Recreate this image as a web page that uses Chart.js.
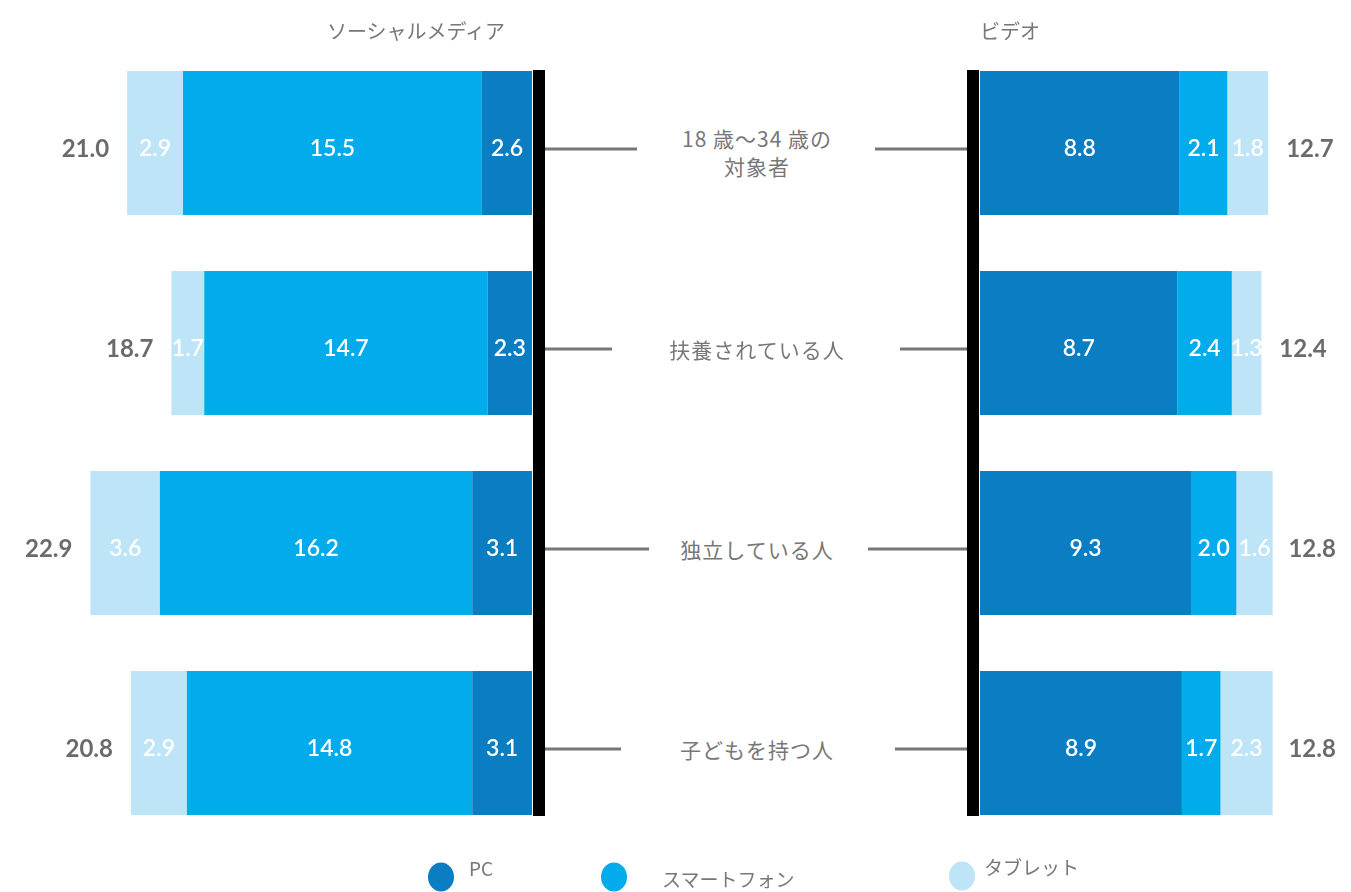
<!DOCTYPE html>
<html lang="ja">
<head>
<meta charset="UTF-8">
<title>ソーシャルメディアとビデオ</title>
<script src="https://cdn.jsdelivr.net/npm/chart.js"></script>
<style>
  body { margin: 0; background: #fff; width: 1351px; height: 892px; position: relative; overflow: hidden;
         font-family: "Noto Sans CJK JP", "Noto Sans", sans-serif; color: #777; }
  canvas { position: absolute; top: 0; }
  #leftChart { left: 0; }
  #rightChart { left: 860px; }
  .title { position: absolute; top: 16px; font-size: 20px; transform: translateX(-50%); white-space: nowrap; }
  .cat { position: absolute; left: 757px; transform: translate(-50%, -50%); font-size: 21px; letter-spacing: 1px;
         text-align: center; line-height: 28px; white-space: nowrap; }
  .legend-dot { position: absolute; width: 26px; height: 29px; border-radius: 50%; transform: translate(-50%, -50%); }
  .legend-txt { position: absolute; font-size: 19px; transform: translateY(-50%); white-space: nowrap; }
</style>
</head>
<body>
<canvas id="leftChart" width="680" height="892"></canvas>
<canvas id="rightChart" width="491" height="892"></canvas>

<div class="title" style="left:416px;">ソーシャルメディア</div>
<div class="title" style="left:1010px;">ビデオ</div>
<div id="cats"></div>

<!-- 凡例 -->
<div class="legend-dot" style="left:441px; top:877px; background:#0b7dc2;"></div>
<div class="legend-txt" style="left:469px; top:867px;">PC</div>
<div class="legend-dot" style="left:614px; top:877px; background:#02abeb;"></div>
<div class="legend-txt" style="left:662px; top:878px;">スマートフォン</div>
<div class="legend-dot" style="left:962px; top:876px; background:#bde4f7;"></div>
<div class="legend-txt" style="left:984px; top:866px;">タブレット</div>

<script>
// データ
const categories = ['18 歳～34 歳の\n対象者', '扶養されている人', '独立している人', '子どもを持つ人'];
const seriesNames = ['PC', 'スマートフォン', 'タブレット'];

const socialPC = [2.6, 2.3, 3.1, 3.1];
const socialPhone = [15.5, 14.7, 16.2, 14.8];
const socialTablet = [2.9, 1.7, 3.6, 2.9];
const socialTotal = [21.0, 18.7, 22.9, 20.8];

const videoPC = [8.8, 8.7, 9.3, 8.9];
const videoPhone = [2.1, 2.4, 2.0, 1.7];
const videoTablet = [1.8, 1.3, 1.6, 2.3];
const videoTotal = [12.7, 12.4, 12.8, 12.8];

// 見た目
const colors = ['#0b7dc2', '#02abeb', '#bde4f7'];
const leftLineLen = [92, 67, 104, 76];
const rightLineLen = [92, 67, 99, 72];
const textDy = 6;

// カテゴリ名
const catBox = document.getElementById('cats');
const catY = [152, 349, 549, 749];
categories.forEach((c, i) => {
    const d = document.createElement('div');
    d.className = 'cat';
    d.style.top = catY[i] + 'px';
    d.innerHTML = c.split('\n').join('<br>');
    catBox.appendChild(d);
});

function makeDatasets(pc, phone, tablet) {
    return [pc, phone, tablet].map((vals, i) => ({
        label: seriesNames[i],
        data: vals,
        backgroundColor: colors[i],
        borderWidth: 0,
        categoryPercentage: 0.72,
        barPercentage: 1.0
    }));
}

// 数値ラベル・黒い軸線・接続線を描く
function labelPlugin(totals, side, lineLen) {
    return {
        id: 'labels_' + side,
        afterDatasetsDraw(chart) {
            const ctx = chart.ctx;
            const area = chart.chartArea;
            const xs = chart.scales.x;
            ctx.save();

            // 各セグメントの値
            ctx.font = '600 23px Lato, "Open Sans", sans-serif';
            ctx.textAlign = 'center';
            ctx.textBaseline = 'middle';
            ctx.fillStyle = '#ffffff';
            chart.data.datasets.forEach((ds, di) => {
                chart.getDatasetMeta(di).data.forEach((bar, j) => {
                    const cx = (bar.x + bar.base) / 2;
                    ctx.fillText(ds.data[j].toFixed(1), cx, bar.y + textDy);
                });
            });

            // 合計値
            ctx.font = '700 24px Lato, "Open Sans", sans-serif';
            ctx.fillStyle = '#6b6b6b';
            const meta0 = chart.getDatasetMeta(0).data;
            totals.forEach((t, j) => {
                const px = xs.getPixelForValue(t);
                const y = meta0[j].y + textDy;
                if (side === 'left') {
                    ctx.textAlign = 'right';
                    ctx.fillText(t.toFixed(1), px - 18, y);
                } else {
                    ctx.textAlign = 'left';
                    ctx.fillText(t.toFixed(1), px + 18, y);
                }
            });

            // 黒い軸線
            const first = meta0[0], last = meta0[meta0.length - 1];
            const top = first.y - first.height / 2 - 1;
            const bottom = last.y + last.height / 2 + 1;
            ctx.fillStyle = '#000';
            if (side === 'left') {
                ctx.fillRect(area.right + 1, top, 12, bottom - top);
            } else {
                ctx.fillRect(area.left - 13, top, 12, bottom - top);
            }

            // 接続線
            ctx.strokeStyle = '#777';
            ctx.lineWidth = 3;
            meta0.forEach((bar, j) => {
                const y = bar.y + textDy;
                ctx.beginPath();
                if (side === 'left') {
                    ctx.moveTo(area.right + 13, y);
                    ctx.lineTo(area.right + 13 + lineLen[j], y);
                } else {
                    ctx.moveTo(area.left - 13, y);
                    ctx.lineTo(area.left - 13 - lineLen[j], y);
                }
                ctx.stroke();
            });
            ctx.restore();
        }
    };
}

function baseOptions(reverse, max, padding) {
    return {
        indexAxis: 'y',
        responsive: false,
        animation: false,
        layout: { padding: padding },
        plugins: { legend: { display: false }, tooltip: { enabled: false } },
        scales: {
            x: { stacked: true, reverse: reverse, min: 0, max: max, display: false },
            y: { stacked: true, display: false }
        }
    };
}

new Chart(document.getElementById('leftChart'), {
    type: 'bar',
    data: { labels: categories, datasets: makeDatasets(socialPC, socialPhone, socialTablet) },
    options: baseOptions(true, 25, { left: 50, right: 148, top: 43, bottom: 49 }),
    plugins: [labelPlugin(socialTotal, 'left', leftLineLen)]
});

new Chart(document.getElementById('rightChart'), {
    type: 'bar',
    data: { labels: categories, datasets: makeDatasets(videoPC, videoPhone, videoTablet) },
    options: baseOptions(false, 16, { left: 120, right: 8, top: 43, bottom: 49 }),
    plugins: [labelPlugin(videoTotal, 'right', rightLineLen)]
});
</script>
</body>
</html>
